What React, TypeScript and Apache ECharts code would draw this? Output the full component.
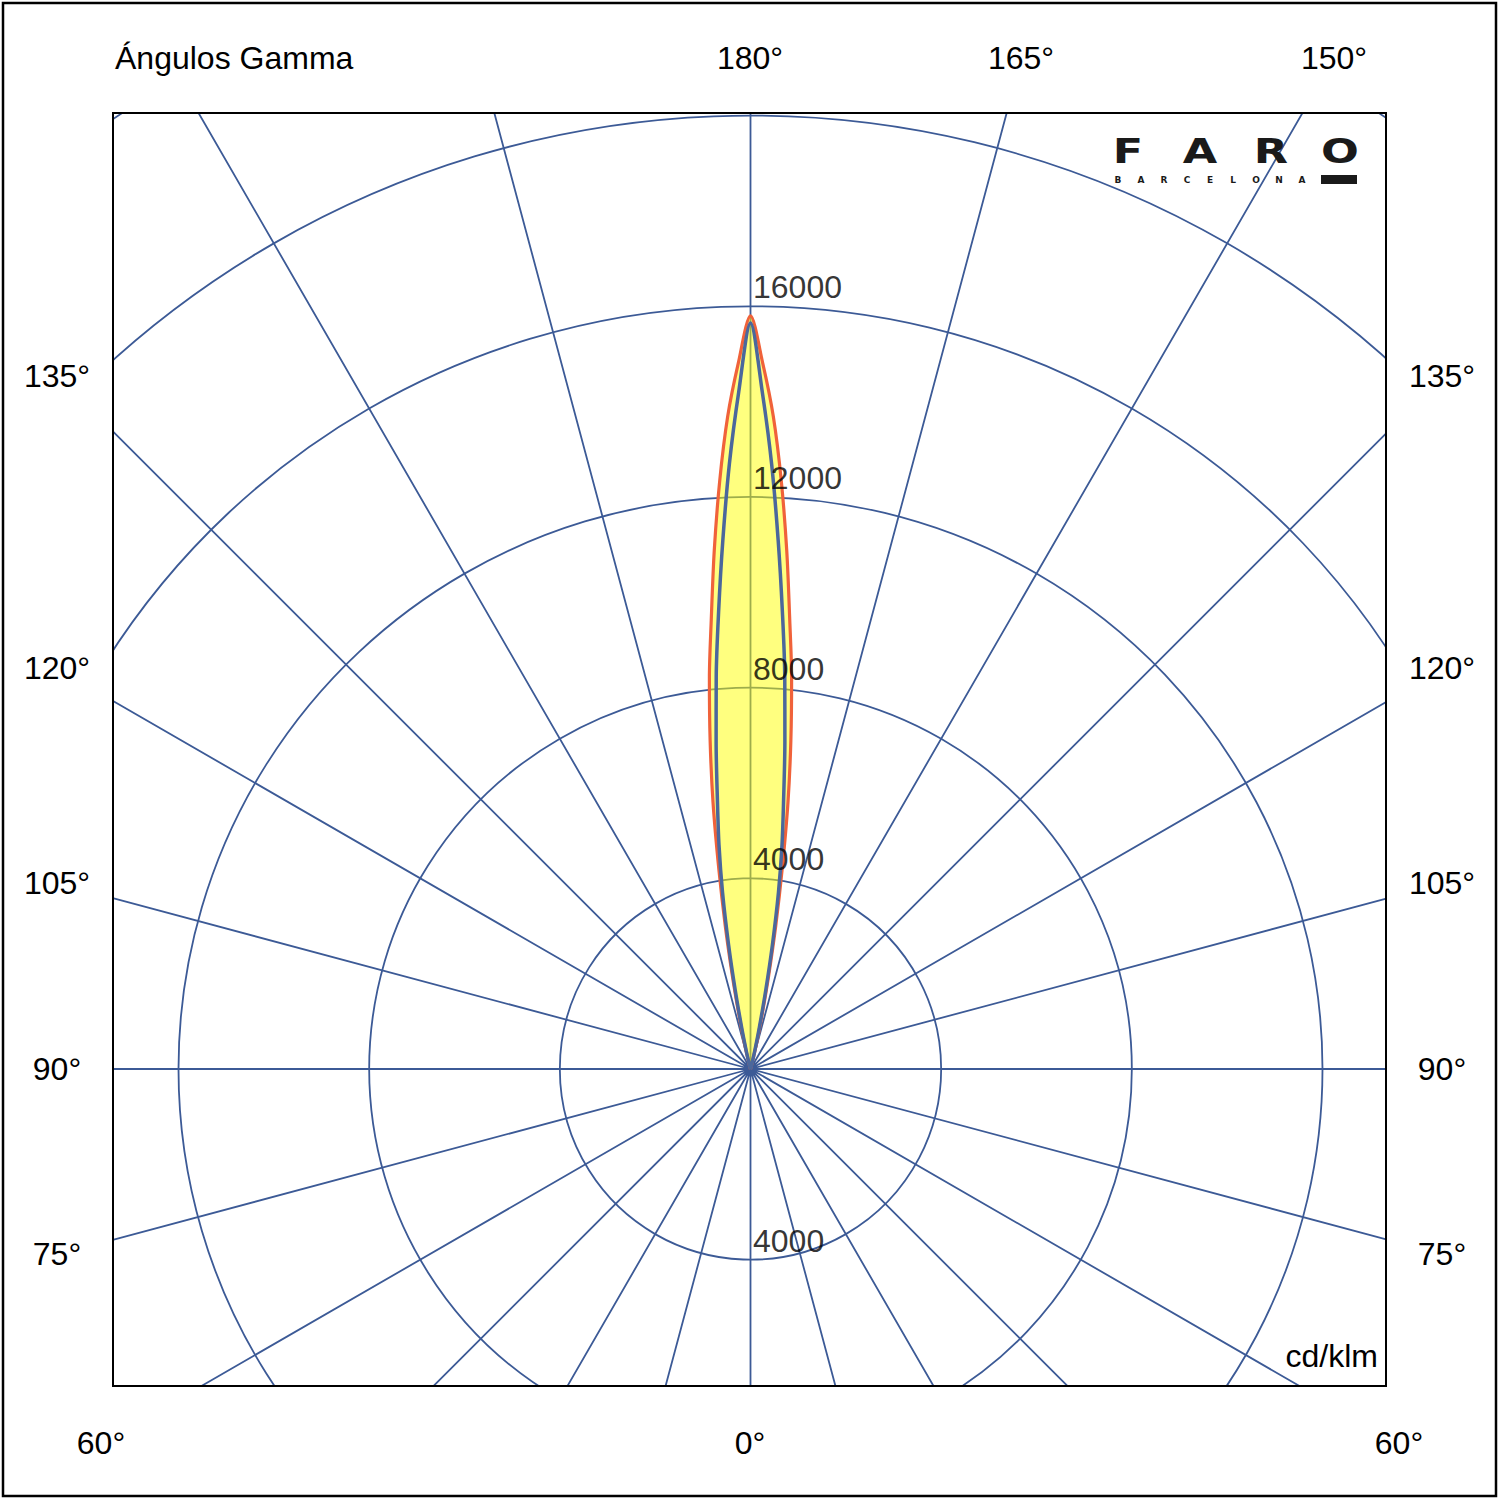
import React, { useEffect, useRef } from "react";
import * as echarts from "echarts";

// Photometric data (cd/klm) by gamma offset from the beam axis (degrees)
const gammaOffsets = [0, 1, 2, 3, 4, 5, 6, 7, 8, 9, 10, 11, 12, 13, 14, 15, 16, 20];
const planeC0_180 = [15800, 14800, 13700, 12350, 10900, 9450, 8250, 6950, 5650, 4250, 3050, 2000, 1200, 650, 300, 120, 40, 0];
const planeC90_270 = [15650, 14200, 12700, 11100, 9600, 8250, 6900, 5700, 4750, 3750, 2650, 1650, 900, 450, 200, 80, 20, 0];

const ringLabelsUp = [4000, 8000, 12000, 16000];
const ringLabelsDown = [4000];

const topLabels = ["180°", "165°", "150°"];
const sideLabels = ["135°", "120°", "105°", "90°", "75°"];
const bottomLabels = ["60°", "0°", "60°"];
const logoLetters = ["F", "A", "R", "O"];
const logoSub = ["B", "A", "R", "C", "E", "L", "O", "N", "A"];

const GRID = "#3C5A96";
const FONT = "Liberation Sans";

function beam(values: number[]) {
  const pts: number[][] = [];
  for (let i = gammaOffsets.length - 1; i >= 1; i--) pts.push([values[i], 180 - gammaOffsets[i]]);
  pts.push([values[0], 180]);
  for (let i = 1; i < gammaOffsets.length; i++) pts.push([values[i], 180 + gammaOffsets[i]]);
  return pts;
}

export default function App() {
  const ref = useRef<HTMLDivElement>(null);
  useEffect(() => {
    const chart = echarts.init(ref.current!, null, { renderer: "svg" });
    const txt = (text: string, x: number, y: number, align = "center", size = 32) => ({
      type: "text",
      x,
      y,
      z: 102,
      silent: true,
      style: { text, fill: "#000", fontSize: size, fontFamily: FONT, align, verticalAlign: "middle" },
    });
    const topX = [750, 1021, 1334];
    const sideY = [376, 668, 883, 1069, 1254];
    const bottomX = [101, 750, 1399];
    const logoX = [1128, 1200, 1271, 1340];
    const graphic: any[] = [
      { type: "rect", z: 100, silent: true, shape: { x: 0, y: 0, width: 1500, height: 113 }, style: { fill: "#fff" } },
      { type: "rect", z: 100, silent: true, shape: { x: 0, y: 1386, width: 1500, height: 114 }, style: { fill: "#fff" } },
      { type: "rect", z: 100, silent: true, shape: { x: 0, y: 0, width: 113, height: 1500 }, style: { fill: "#fff" } },
      { type: "rect", z: 100, silent: true, shape: { x: 1386, y: 0, width: 114, height: 1500 }, style: { fill: "#fff" } },
      { type: "rect", z: 101, silent: true, shape: { x: 113, y: 113, width: 1273, height: 1273 }, style: { fill: "none", stroke: "#000", lineWidth: 2 } },
      { type: "rect", z: 101, silent: true, shape: { x: 3, y: 3, width: 1493, height: 1493 }, style: { fill: "none", stroke: "#000", lineWidth: 2.5 } },
      txt("Ángulos Gamma", 115, 58, "left"),
      ...topLabels.map((t, i) => txt(t, topX[i], 58)),
      ...sideLabels.map((t, i) => txt(t, 57, sideY[i])),
      ...sideLabels.map((t, i) => txt(t, 1442, sideY[i])),
      ...bottomLabels.map((t, i) => txt(t, bottomX[i], 1443)),
      txt("cd/klm", 1378, 1356, "right"),
      ...logoLetters.map((t, i) => ({
        type: "text",
        x: logoX[i],
        y: 152,
        z: 102,
        silent: true,
        scaleX: 1.35,
        style: { text: t, fill: "#1a1a1a", fontSize: 33, fontWeight: "bold", fontFamily: "DejaVu Sans", align: "center", verticalAlign: "middle" },
      })),
      ...logoSub.map((t, i) => ({
        type: "text",
        x: 1118 + i * 23,
        y: 180,
        z: 102,
        silent: true,
        style: { text: t, fill: "#1a1a1a", fontSize: 9, fontWeight: "bold", fontFamily: "DejaVu Sans", align: "center", verticalAlign: "middle" },
      })),
      { type: "rect", z: 102, silent: true, shape: { x: 1321, y: 175, width: 36, height: 9 }, style: { fill: "#1a1a1a" } },
    ];

    chart.setOption({
      animation: false,
      backgroundColor: "#fff",
      polar: { center: [750.5, 1069], radius: 1144 },
      angleAxis: {
        type: "value",
        min: 0,
        max: 360,
        interval: 15,
        startAngle: -90,
        clockwise: true,
        axisLine: { show: false },
        axisTick: { show: false },
        axisLabel: { show: false },
        splitLine: { show: true, lineStyle: { color: GRID, width: 1.8 } },
      },
      radiusAxis: {
        type: "value",
        min: 0,
        max: 24000,
        interval: 4000,
        axisLine: { show: false },
        axisTick: { show: false },
        axisLabel: { show: false },
        splitLine: { show: true, lineStyle: { color: GRID, width: 1.8 } },
      },
      graphic,
      series: [
        {
          type: "line",
          coordinateSystem: "polar",
          data: beam(planeC0_180),
          showSymbol: false,
          smooth: 0.3,
          lineStyle: { color: "#F0623A", width: 3.2 },
          areaStyle: { color: "#FFFF00", opacity: 0.5 },
          z: 3,
          silent: true,
        },
        {
          type: "line",
          coordinateSystem: "polar",
          data: beam(planeC90_270),
          showSymbol: false,
          smooth: 0.3,
          lineStyle: { color: "#4B679C", width: 3.5 },
          z: 4,
          silent: true,
        },
        {
          type: "scatter",
          coordinateSystem: "polar",
          data: ringLabelsUp.map((v) => [v, 180]).concat(ringLabelsDown.map((v) => [v, 0])),
          symbolSize: 1,
          itemStyle: { color: "rgba(0,0,0,0)" },
          label: {
            show: true,
            position: "right",
            distance: 2,
            offset: [0, -19],
            formatter: (p: any) => String(p.value[0]),
            color: "#000",
            fontSize: 32,
            fontFamily: FONT,
          },
          z: 6,
          silent: true,
        },
      ],
    });
    return () => chart.dispose();
  }, []);
  return <div ref={ref} style={{ position: "absolute", left: 0, top: 0, width: 1500, height: 1500 }} />;
}
